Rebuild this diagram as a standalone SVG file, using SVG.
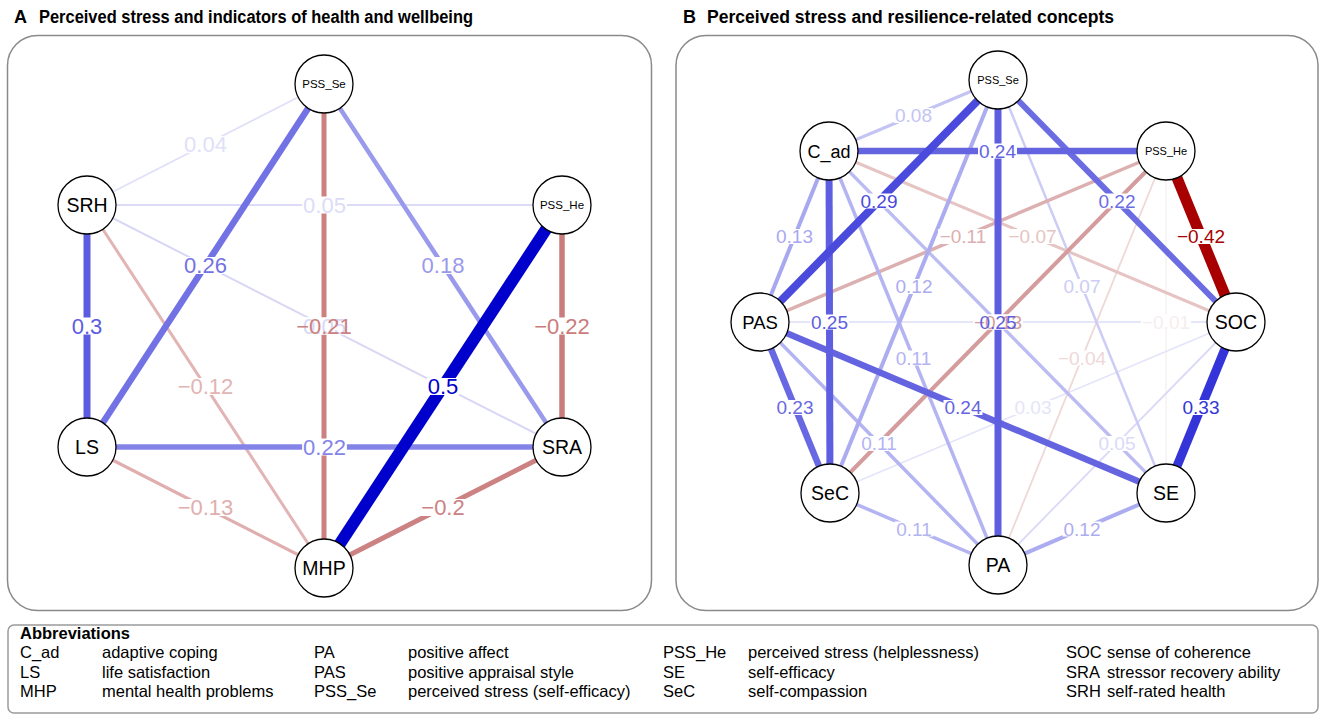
<svg xmlns="http://www.w3.org/2000/svg" width="1325" height="721" viewBox="0 0 1325 721">
<style>
text{font-family:"Liberation Sans",Arial,Helvetica,sans-serif}
.title{font-size:18px;font-weight:bold;fill:#000}
.panel{fill:#fff;stroke:#8a8a8a;stroke-width:1.5}
.node circle{fill:#fff;stroke:#000;stroke-width:1.3}
.node text{text-anchor:middle;fill:#000}
.nl{font-size:19.5px}
.ns{font-size:11.5px}
line{stroke-linecap:butt}
.bg{fill:#fff}
.la{font-size:22px;text-anchor:middle}
.lb{font-size:19px;text-anchor:middle}
.leg{font-size:16.5px;fill:#000}
.legh{font-size:16.5px;font-weight:bold;fill:#000}
</style>
<rect width="1325" height="721" fill="#fff"/>
<text class="title" x="14" y="23">A</text>
<text class="title" x="39" y="23" textLength="434" lengthAdjust="spacingAndGlyphs">Perceived stress and indicators of health and wellbeing</text>
<text class="title" x="683" y="23">B</text>
<text class="title" x="707" y="23" textLength="407" lengthAdjust="spacingAndGlyphs">Perceived stress and resilience-related concepts</text>
<rect class="panel" x="7.5" y="35.5" width="644" height="575" rx="30"/>
<rect class="panel" x="676" y="35.5" width="642" height="575" rx="30"/>

<g id="connectors">
 <g id="edges-A">
  <line x1="87" y1="205" x2="562" y2="205" stroke="#dcdcf8" stroke-width="2"/>
  <line x1="324" y1="84" x2="87" y2="205" stroke="#e0e0f8" stroke-width="1.8"/>
  <line x1="87" y1="205" x2="562" y2="447" stroke="#d8d8f6" stroke-width="2"/>
  <line x1="87" y1="205" x2="324" y2="568" stroke="#e2b4b4" stroke-width="3"/>
  <line x1="87" y1="447" x2="324" y2="568" stroke="#e0aeae" stroke-width="3.2"/>
  <line x1="324" y1="84" x2="562" y2="447" stroke="#9a9aec" stroke-width="4.5"/>
  <line x1="324" y1="568" x2="562" y2="447" stroke="#cc8282" stroke-width="5"/>
  <line x1="324" y1="84" x2="324" y2="568" stroke="#cc8080" stroke-width="5"/>
  <line x1="562" y1="205" x2="562" y2="447" stroke="#ca7c7c" stroke-width="5.5"/>
  <line x1="87" y1="447" x2="562" y2="447" stroke="#8484e8" stroke-width="5.5"/>
  <line x1="324" y1="84" x2="87" y2="447" stroke="#7272e4" stroke-width="6.5"/>
  <line x1="87" y1="205" x2="87" y2="447" stroke="#5c5ce0" stroke-width="7"/>
  <line x1="562" y1="205" x2="324" y2="568" stroke="#0000cc" stroke-width="12"/>
 </g>
 <g id="edges-B">
  <line x1="1166" y1="151" x2="1166" y2="493" stroke="#f6eeee" stroke-width="1.2"/>
  <line x1="830" y1="493" x2="1236" y2="322" stroke="#e4e4fa" stroke-width="1.5"/>
  <line x1="760" y1="322" x2="1236" y2="322" stroke="#dedef8" stroke-width="1.6"/>
  <line x1="1166" y1="151" x2="998" y2="565" stroke="#eed8d8" stroke-width="1.8"/>
  <line x1="998" y1="565" x2="1236" y2="322" stroke="#dadaf8" stroke-width="1.8"/>
  <line x1="998" y1="80" x2="1166" y2="493" stroke="#ccccf6" stroke-width="2.5"/>
  <line x1="829" y1="151" x2="1236" y2="322" stroke="#e6c4c4" stroke-width="3"/>
  <line x1="829" y1="151" x2="998" y2="80" stroke="#c4c4f4" stroke-width="3"/>
  <line x1="829" y1="151" x2="1166" y2="493" stroke="#bcbcf2" stroke-width="3.3"/>
  <line x1="1166" y1="151" x2="760" y2="322" stroke="#dcb0b0" stroke-width="3.5"/>
  <line x1="829" y1="151" x2="998" y2="565" stroke="#b4b4f2" stroke-width="3.5"/>
  <line x1="760" y1="322" x2="998" y2="565" stroke="#b4b4f2" stroke-width="3.5"/>
  <line x1="830" y1="493" x2="998" y2="565" stroke="#b4b4f2" stroke-width="3.5"/>
  <line x1="998" y1="80" x2="830" y2="493" stroke="#acacf0" stroke-width="4"/>
  <line x1="998" y1="565" x2="1166" y2="493" stroke="#acacf0" stroke-width="4"/>
  <line x1="1166" y1="151" x2="830" y2="493" stroke="#d49c9c" stroke-width="4"/>
  <line x1="829" y1="151" x2="760" y2="322" stroke="#a8a8f0" stroke-width="4"/>
  <line x1="998" y1="80" x2="1236" y2="322" stroke="#6c6ce2" stroke-width="6"/>
  <line x1="760" y1="322" x2="830" y2="493" stroke="#6868e2" stroke-width="6.5"/>
  <line x1="829" y1="151" x2="1166" y2="151" stroke="#6464e0" stroke-width="6.5"/>
  <line x1="760" y1="322" x2="1166" y2="493" stroke="#6464e0" stroke-width="6.5"/>
  <line x1="829" y1="151" x2="830" y2="493" stroke="#5e5ee0" stroke-width="7"/>
  <line x1="998" y1="80" x2="998" y2="565" stroke="#5e5ee0" stroke-width="7"/>
  <line x1="998" y1="80" x2="760" y2="322" stroke="#4a4adc" stroke-width="8"/>
  <line x1="1236" y1="322" x2="1166" y2="493" stroke="#3434d8" stroke-width="9"/>
  <line x1="1166" y1="151" x2="1236" y2="322" stroke="#a80000" stroke-width="11"/>
 </g>
 <g id="edge-label-bg" class="bg">
  <rect x="302.1" y="196.5" width="44.8" height="17"/>
  <rect x="183.1" y="136" width="44.8" height="17"/>
  <rect x="302.1" y="317.5" width="44.8" height="17"/>
  <rect x="176.6" y="378" width="57.7" height="17"/>
  <rect x="176.6" y="499" width="57.7" height="17"/>
  <rect x="420.6" y="257" width="44.8" height="17"/>
  <rect x="420.3" y="499" width="45.4" height="17"/>
  <rect x="295.1" y="317.5" width="57.7" height="17"/>
  <rect x="533.1" y="317.5" width="57.7" height="17"/>
  <rect x="302.1" y="438.5" width="44.8" height="17"/>
  <rect x="183.1" y="257" width="44.8" height="17"/>
  <rect x="70.7" y="317.5" width="32.6" height="17"/>
  <rect x="426.7" y="378" width="32.6" height="17"/>

  <rect x="1141" y="314.5" width="50" height="15"/>
  <rect x="1013.5" y="400" width="39" height="15"/>
  <rect x="1057" y="350.5" width="50" height="15"/>
  <rect x="1097.5" y="436" width="39" height="15"/>
  <rect x="1062.5" y="279" width="39" height="15"/>
  <rect x="1007.5" y="229" width="50" height="15"/>
  <rect x="894" y="108" width="39" height="15"/>
  <rect x="938" y="229" width="50" height="15"/>
  <rect x="894" y="350.5" width="39" height="15"/>
  <rect x="859.5" y="436" width="39" height="15"/>
  <rect x="894.5" y="521.5" width="39" height="15"/>
  <rect x="894.5" y="279" width="39" height="15"/>
  <rect x="1062.5" y="521.5" width="39" height="15"/>
  <rect x="973" y="314.5" width="50" height="15"/>
  <rect x="775" y="229" width="39" height="15"/>
  <rect x="1097.5" y="193.5" width="39" height="15"/>
  <rect x="775.5" y="400" width="39" height="15"/>
  <rect x="978" y="143.5" width="39" height="15"/>
  <rect x="943.5" y="400" width="39" height="15"/>
  <rect x="810" y="314.5" width="39" height="15"/>
  <rect x="978.5" y="314.5" width="39" height="15"/>
  <rect x="859.5" y="193.5" width="39" height="15"/>
  <rect x="1181.5" y="400" width="39" height="15"/>
  <rect x="1176" y="229" width="50" height="15"/>
 </g>
 <g id="edge-labels-A" class="la">
  <text x="324.5" y="212.9" fill="#dcdcf8">0.05</text>
  <text x="205.5" y="152.4" fill="#e0e0f8">0.04</text>
  <text x="324.5" y="333.9" fill="#d8d8f6">0.05</text>
  <text x="205.5" y="394.4" fill="#e2b4b4">−0.12</text>
  <text x="205.5" y="515.4" fill="#e0aeae">−0.13</text>
  <text x="443" y="273.4" fill="#9a9aec">0.18</text>
  <text x="443" y="515.4" fill="#cc8282">−0.2</text>
  <text x="324" y="333.9" fill="#cc8080">−0.21</text>
  <text x="562" y="333.9" fill="#ca7c7c">−0.22</text>
  <text x="324.5" y="454.9" fill="#8484e8">0.22</text>
  <text x="205.5" y="273.4" fill="#7272e4">0.26</text>
  <text x="87" y="333.9" fill="#5c5ce0">0.3</text>
  <text x="443" y="394.4" fill="#0000cc">0.5</text>
 </g>
 <g id="edge-labels-B" class="lb">
  <text x="1166" y="328.8" fill="#f6eeee">−0.01</text>
  <text x="1033" y="414.3" fill="#e4e4fa">0.03</text>
  <text x="1082" y="364.8" fill="#eed8d8">−0.04</text>
  <text x="1117" y="450.3" fill="#dadaf8">0.05</text>
  <text x="1082" y="293.3" fill="#ccccf6">0.07</text>
  <text x="1032.5" y="243.3" fill="#e6c4c4">−0.07</text>
  <text x="913.5" y="122.3" fill="#c4c4f4">0.08</text>
  <text x="963" y="243.3" fill="#dcb0b0">−0.11</text>
  <text x="913.5" y="364.8" fill="#b4b4f2">0.11</text>
  <text x="879" y="450.3" fill="#b4b4f2">0.11</text>
  <text x="914" y="535.8" fill="#b4b4f2">0.11</text>
  <text x="914" y="293.3" fill="#acacf0">0.12</text>
  <text x="1082" y="535.8" fill="#acacf0">0.12</text>
  <text x="998" y="328.8" fill="#d49c9c">−0.13</text>
  <text x="794.5" y="243.3" fill="#a8a8f0">0.13</text>
  <text x="1117" y="207.8" fill="#6c6ce2">0.22</text>
  <text x="795" y="414.3" fill="#6868e2">0.23</text>
  <text x="997.5" y="157.8" fill="#6464e0">0.24</text>
  <text x="963" y="414.3" fill="#6464e0">0.24</text>
  <text x="829.5" y="328.8" fill="#5e5ee0">0.25</text>
  <text x="998" y="328.8" fill="#5e5ee0">0.25</text>
  <text x="879" y="207.8" fill="#4a4adc">0.29</text>
  <text x="1201" y="414.3" fill="#3434d8">0.33</text>
  <text x="1201" y="243.3" fill="#a80000">−0.42</text>
 </g>
</g>

<g id="node-A-PSS_Se" class="node"><circle cx="324" cy="84" r="29"/><text class="ns" x="324" y="88">PSS_Se</text></g>
<g id="node-A-SRH" class="node"><circle cx="87" cy="205" r="29"/><text class="nl" x="87" y="212">SRH</text></g>
<g id="node-A-PSS_He" class="node"><circle cx="562" cy="205" r="29"/><text class="ns" x="562" y="209">PSS_He</text></g>
<g id="node-A-LS" class="node"><circle cx="87" cy="447" r="29"/><text class="nl" x="87" y="454">LS</text></g>
<g id="node-A-SRA" class="node"><circle cx="562" cy="447" r="29"/><text class="nl" x="562" y="454">SRA</text></g>
<g id="node-A-MHP" class="node"><circle cx="324" cy="568" r="29"/><text class="nl" x="324" y="575">MHP</text></g>

<g id="node-B-PSS_Se" class="node"><circle cx="998" cy="80" r="29"/><text class="ns" x="998" y="84" style="font-size:11px">PSS_Se</text></g>
<g id="node-B-PSS_He" class="node"><circle cx="1166" cy="151" r="29"/><text class="ns" x="1166" y="155" style="font-size:11px">PSS_He</text></g>
<g id="node-B-SOC" class="node"><circle cx="1236" cy="322" r="29"/><text class="nl" x="1236" y="329">SOC</text></g>
<g id="node-B-SE" class="node"><circle cx="1166" cy="493" r="29"/><text class="nl" x="1166" y="500">SE</text></g>
<g id="node-B-PA" class="node"><circle cx="998" cy="565" r="29"/><text class="nl" x="998" y="572">PA</text></g>
<g id="node-B-SeC" class="node"><circle cx="830" cy="493" r="29"/><text class="nl" x="830" y="500">SeC</text></g>
<g id="node-B-PAS" class="node"><circle cx="760" cy="322" r="29"/><text class="nl" x="760" y="329" style="font-size:18.5px">PAS</text></g>
<g id="node-B-C_ad" class="node"><circle cx="829" cy="151" r="29"/><text class="nl" x="829" y="157.5" style="font-size:18px">C_ad</text></g>

<g id="legend">
 <rect x="8" y="625" width="1310" height="88" rx="6" fill="#fff" stroke="#9a9a9a" stroke-width="1.5"/>
 <text class="legh" x="20" y="639">Abbreviations</text>
 <text class="leg" x="20" y="658">C_ad</text><text class="leg" x="102" y="658">adaptive coping</text>
 <text class="leg" x="20" y="677.5">LS</text><text class="leg" x="102" y="677.5">life satisfaction</text>
 <text class="leg" x="20" y="697">MHP</text><text class="leg" x="102" y="697">mental health problems</text>
 <text class="leg" x="314" y="658">PA</text><text class="leg" x="408" y="658">positive affect</text>
 <text class="leg" x="314" y="677.5">PAS</text><text class="leg" x="408" y="677.5">positive appraisal style</text>
 <text class="leg" x="314" y="697">PSS_Se</text><text class="leg" x="408" y="697">perceived stress (self-efficacy)</text>
 <text class="leg" x="663" y="658">PSS_He</text><text class="leg" x="748" y="658">perceived stress (helplessness)</text>
 <text class="leg" x="663" y="677.5">SE</text><text class="leg" x="748" y="677.5">self-efficacy</text>
 <text class="leg" x="663" y="697">SeC</text><text class="leg" x="748" y="697">self-compassion</text>
 <text class="leg" x="1066" y="658">SOC</text><text class="leg" x="1107" y="658">sense of coherence</text>
 <text class="leg" x="1066" y="677.5">SRA</text><text class="leg" x="1107" y="677.5">stressor recovery ability</text>
 <text class="leg" x="1066" y="697">SRH</text><text class="leg" x="1107" y="697">self-rated health</text>
</g>
</svg>
